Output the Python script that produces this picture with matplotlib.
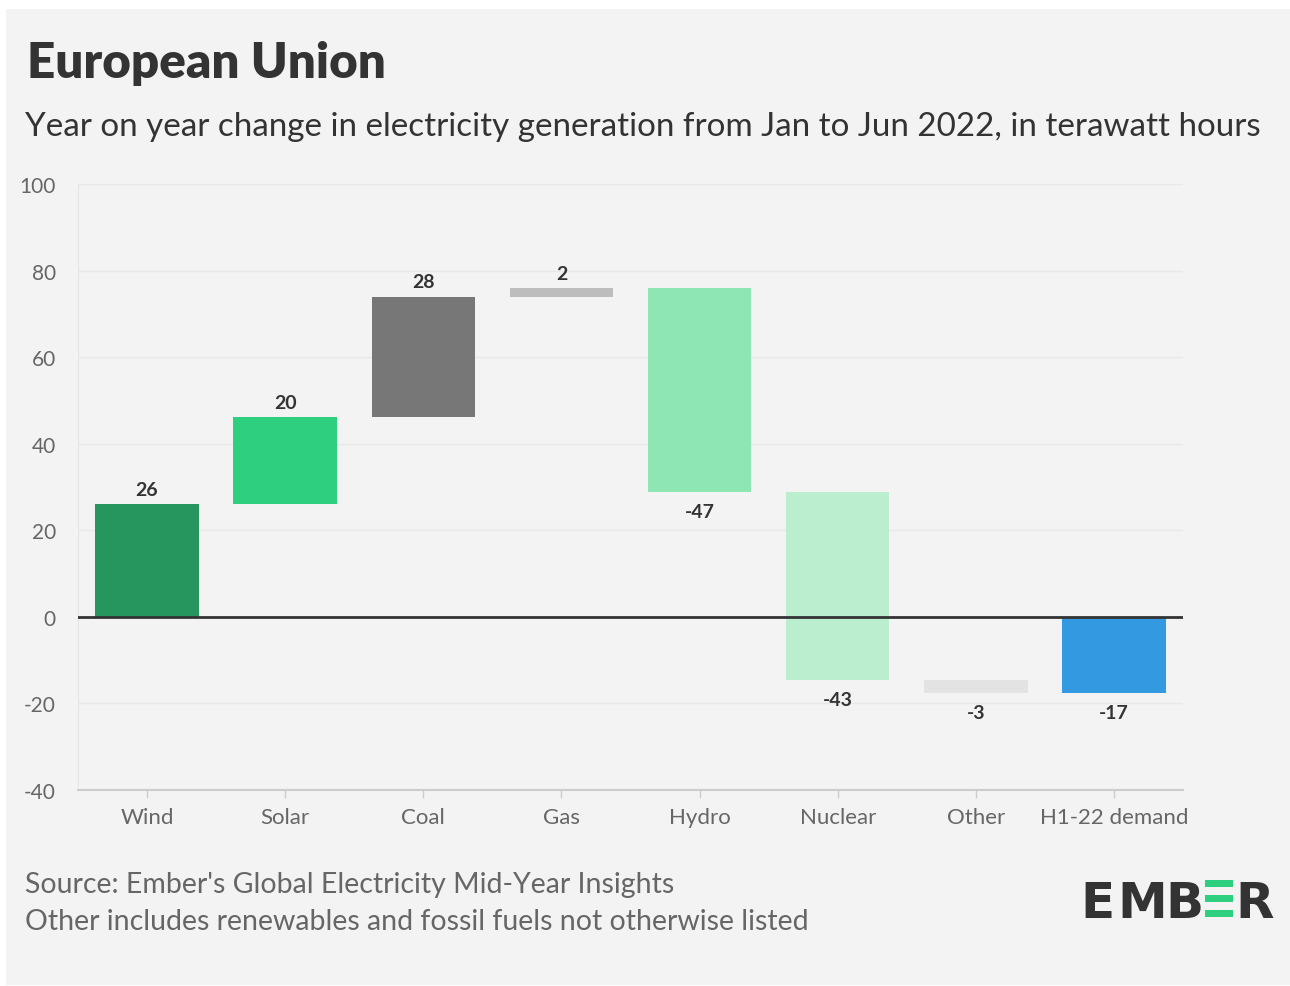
import numpy as np
import matplotlib.pyplot as plt
from matplotlib.patches import Rectangle

plt.rcParams['font.family'] = ['Lato', 'DejaVu Sans']
plt.rcParams['axes.unicode_minus'] = False

# data
categories = ['Wind', 'Solar', 'Coal', 'Gas', 'Hydro', 'Nuclear', 'Other', 'H1-22 demand']
changes = [26.1, 20.0, 27.9, 1.9, -47.0, -43.4, -3.0]
labels = ['26', '20', '28', '2', '-47', '-43', '-3', '-17']
colors = ['#27955e', '#2ecf7f', '#777777', '#bdbdbd', '#8ee6b4', '#bbeecf', '#e3e3e3', '#3399e0']
yticks = [-40, -20, 0, 20, 40, 60, 80, 100]

# waterfall bases
steps = np.array(changes)
ends = np.cumsum(steps)
starts = ends - steps
demand = ends[-1]
bottoms = list(starts) + [0]
heights = list(steps) + [demand]

fig = plt.figure(figsize=(12.9, 9.87), dpi=100)
fig.patch.set_facecolor('white')
fig.patches.append(Rectangle((6 / 1290, 1 - 986 / 987), 1284 / 1290, 976 / 987,
                             transform=fig.transFigure, facecolor='#f3f3f3',
                             edgecolor='none', zorder=-5))

ax = fig.add_axes([78 / 1290, 1 - 791 / 987, 1105 / 1290, 606 / 987])
ax.set_facecolor('none')

x = np.arange(len(categories))
ax.bar(x, heights, bottom=bottoms, width=0.75, color=colors, zorder=3)

for i in range(len(categories)):
    top = bottoms[i] + heights[i]
    if heights[i] >= 0:
        ax.text(x[i], top + 1.4, labels[i], ha='center', va='bottom',
                fontsize=14, fontweight='bold', color='#333333')
    else:
        ax.text(x[i], top - 2.6, labels[i], ha='center', va='top',
                fontsize=14, fontweight='bold', color='#333333')

ax.axhline(0, color='#333333', lw=2, zorder=4)
ax.set_xlim(-0.5, len(categories) - 0.5)
ax.set_ylim(-40, 100)
ax.set_yticks(yticks)
ax.set_xticks(x)
ax.set_xticklabels(categories)
ax.grid(axis='y', color='#e8e8e8', lw=1, zorder=0)
ax.tick_params(axis='y', length=0, pad=16, labelsize=15, labelcolor='#666666')
ax.tick_params(axis='x', length=6, width=1, color='#cccccc', pad=6,
               labelsize=16, labelcolor='#666666')
for s in ['top', 'right']:
    ax.spines[s].set_visible(False)
ax.spines['left'].set_color('#e6e6e6')
ax.spines['bottom'].set_color('#cccccc')
ax.spines['bottom'].set_linewidth(1.5)

# titles
fig.text(27 / 1290, 1 - 63 / 987, 'European Union', fontsize=35.5, fontweight='heavy',
         color='#333333', va='center', ha='left')
fig.text(25 / 1290, 1 - 127 / 987,
         'Year on year change in electricity generation from Jan to Jun 2022, in terawatt hours',
         fontsize=23.9, color='#333333', va='center', ha='left')

fig.text(25 / 1290, 1 - 885 / 987, "Source: Ember's Global Electricity Mid-Year Insights",
         fontsize=20.5, color='#666666', va='center', ha='left')
fig.text(25 / 1290, 1 - 922 / 987, 'Other includes renewables and fossil fuels not otherwise listed',
         fontsize=20.5, color='#666666', va='center', ha='left')

# logo
for ch, px in [('E', 1080), ('M', 1117), ('B', 1165), ('R', 1235)]:
    fig.text(px / 1290, 1 - 918 / 987, ch, fontsize=36, fontweight='bold',
             family='DejaVu Sans', color='#333333', va='baseline', ha='left')
for py in [881, 896, 911]:
    fig.patches.append(Rectangle((1205 / 1290, 1 - (py + 7) / 987), 28 / 1290, 7 / 987,
                                 transform=fig.transFigure, facecolor='#2ecf7f',
                                 edgecolor='none', zorder=2))

fig.savefig('out.png', dpi=100, facecolor=fig.get_facecolor())
